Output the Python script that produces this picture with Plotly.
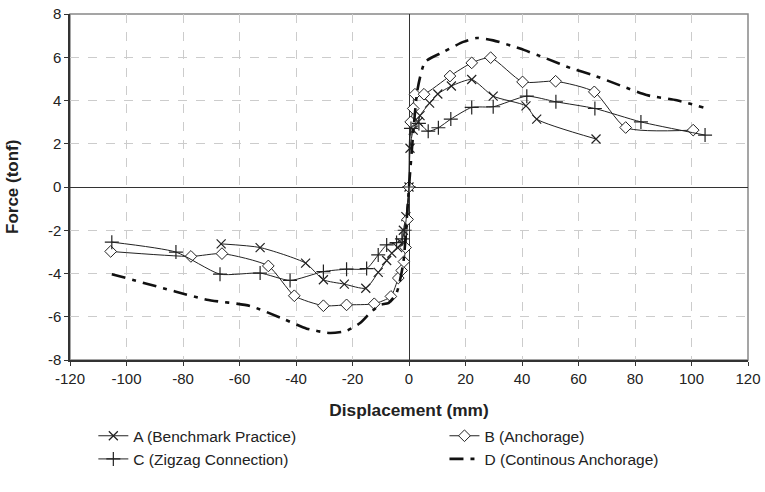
import plotly.graph_objects as go

# Series A (Benchmark Practice)
a_x = [-66.5, -52.7, -36.6, -30.3, -22.9, -15.3, -10.9, -7.9, -6.1, -4.0, -2.5, -2.0, -1.1, 0.0,
       0.35, 1.5, 3.3, 3.9, 7.3, 10.2, 15.0, 22.2, 29.8, 41.4, 45.2, 66.2]
a_y = [-2.63, -2.80, -3.52, -4.29, -4.49, -4.68, -3.95, -3.40, -3.06, -2.80, -2.60, -2.00, -1.37, 0.0,
       1.79, 2.63, 3.01, 3.30, 3.88, 4.30, 4.67, 4.97, 4.20, 3.75, 3.14, 2.22]

# Series B (Anchorage)
b_x = [-105.6, -77.2, -66.2, -49.8, -40.6, -30.3, -22.1, -12.3, -6.4, -3.8, -2.6, -1.8, -1.2, -0.5, 0.0,
       0.6, 1.5, 2.1, 5.3, 14.5, 22.2, 28.9, 40.2, 51.9, 65.6, 76.7, 100.6]
b_y = [-2.98, -3.21, -3.08, -3.65, -5.03, -5.49, -5.45, -5.40, -5.06, -4.21, -3.86, -3.45, -2.80, -1.50, 0.0,
       3.01, 3.63, 4.29, 4.29, 5.13, 5.74, 5.98, 4.86, 4.89, 4.40, 2.75, 2.63]

# Series C (Zigzag Connection)
c_x = [-105.2, -82.5, -66.9, -52.7, -42.1, -30.3, -22.1, -15.0, -10.9, -7.9, -4.4, -2.5, -1.5, 0.0,
       0.7, 3.5, 6.8, 10.4, 14.8, 22.2, 29.8, 41.7, 52.0, 65.8, 82.1, 104.8]
c_y = [-2.55, -3.01, -4.03, -3.98, -4.32, -3.91, -3.80, -3.77, -3.14, -2.68, -2.57, -2.40, -2.00, 0.0,
       2.71, 2.94, 2.58, 2.74, 3.14, 3.68, 3.71, 4.20, 3.94, 3.63, 3.01, 2.40]

# Series D (Continous Anchorage)
d_x = [-105.2, -82.8, -71.6, -56.3, -44.5, -36.2, -28.0, -22.1, -17.3, -13.8, -10.3, -7.3, -4.4, -2.0, -0.8, 0.0,
       1.5, 3.0, 5.7, 12.1, 19.2, 24.0, 29.8, 39.3, 48.7, 57.6, 65.2, 74.7, 84.1, 94.8, 104.2]
d_y = [-4.03, -4.83, -5.21, -5.50, -6.10, -6.55, -6.75, -6.65, -6.29, -5.83, -5.45, -5.37, -4.90, -3.50, -1.50, 0.0,
       2.50, 4.50, 5.78, 6.24, 6.71, 6.89, 6.78, 6.40, 5.94, 5.48, 5.17, 4.70, 4.25, 4.01, 3.68]

names = ["A (Benchmark Practice)", "B (Anchorage)", "C (Zigzag Connection)", "D (Continous Anchorage)"]
x_title = "Displacement (mm)"
y_title = "Force (tonf)"
x_ticks = list(range(-120, 121, 20))
y_ticks = list(range(-8, 9, 2))

FONT = "Liberation Sans, Arial, sans-serif"
INK = "#222222"
fig = go.Figure()

fig.add_trace(go.Scatter(
    x=a_x, y=a_y, name=names[0], mode="lines+markers", legend="legend", legendgroup="a",
    line=dict(color=INK, width=1, shape="spline", smoothing=0.6),
    marker=dict(symbol="x-thin", size=9, color=INK, line=dict(color=INK, width=1.2)),
))
fig.add_trace(go.Scatter(
    x=b_x, y=b_y, name=names[1], mode="lines+markers", legend="legend2", legendgroup="b",
    line=dict(color=INK, width=1, shape="spline", smoothing=0.6),
    marker=dict(symbol="diamond", size=9, color="white", line=dict(color=INK, width=1)),
))
fig.add_trace(go.Scatter(
    x=c_x, y=c_y, name=names[2], mode="lines+markers", legend="legend", legendgroup="c",
    line=dict(color=INK, width=1, shape="spline", smoothing=0.6),
    marker=dict(symbol="cross-thin", size=10, color=INK, line=dict(color=INK, width=1.2)),
))
fig.add_trace(go.Scatter(
    x=d_x, y=d_y, name=names[3], mode="lines", legend="legend2", legendgroup="d",
    line=dict(color="#111111", width=2.6, shape="spline", smoothing=0.6, dash="14px,7px,4px,7px"),
))

leg_common = dict(
    orientation="v", yanchor="top", xanchor="left",
    xref="container", yref="container",
    font=dict(family=FONT, size=15.5, color=INK),
    bgcolor="rgba(0,0,0,0)", itemwidth=30, tracegroupgap=0,
)

fig.update_layout(
    width=765, height=492,
    margin=dict(l=70, r=17, t=14, b=132, autoexpand=False),
    paper_bgcolor="white", plot_bgcolor="white",
    font=dict(family=FONT, size=15, color=INK),
    showlegend=True,
    legend=dict(x=0.122, y=0.148, **leg_common),
    legend2=dict(x=0.581, y=0.148, **leg_common),
    shapes=[dict(type="rect", xref="paper", yref="paper", x0=0, y0=0, x1=1, y1=1,
                 line=dict(color="#888888", width=1.5), layer="below")],
    annotations=[dict(text="<b>%s</b>" % y_title, textangle=-90, showarrow=False,
                      xref="paper", yref="paper", x=-58 / 678, y=0.5,
                      xanchor="center", yanchor="middle",
                      font=dict(family=FONT, size=17, color=INK))],
)

fig.update_xaxes(
    range=[-120, 120], tickvals=x_ticks, ticktext=[str(v) for v in x_ticks],
    showgrid=True, gridcolor="#cccccc", griddash="dash", gridwidth=1,
    zeroline=True, zerolinecolor="#333333", zerolinewidth=1,
    showline=True, linecolor="#333333", linewidth=1.5,
    ticks="outside", ticklen=4, tickcolor="#333333", automargin=True,
    title=dict(text="<b>%s</b>" % x_title, font=dict(family=FONT, size=17.3), standoff=18),
)
fig.update_yaxes(
    range=[-8, 8], tickvals=y_ticks, ticktext=[str(v) for v in y_ticks],
    showgrid=True, gridcolor="#cccccc", griddash="dash", gridwidth=1,
    zeroline=True, zerolinecolor="#333333", zerolinewidth=1,
    showline=True, linecolor="#333333", linewidth=1.5,
    ticks="outside", ticklen=4, tickcolor="#333333", automargin=False,
)

fig.write_html("out.html", config={"displayModeBar": False},
               post_script="document.body.style.margin='0';document.body.style.padding='0';")
